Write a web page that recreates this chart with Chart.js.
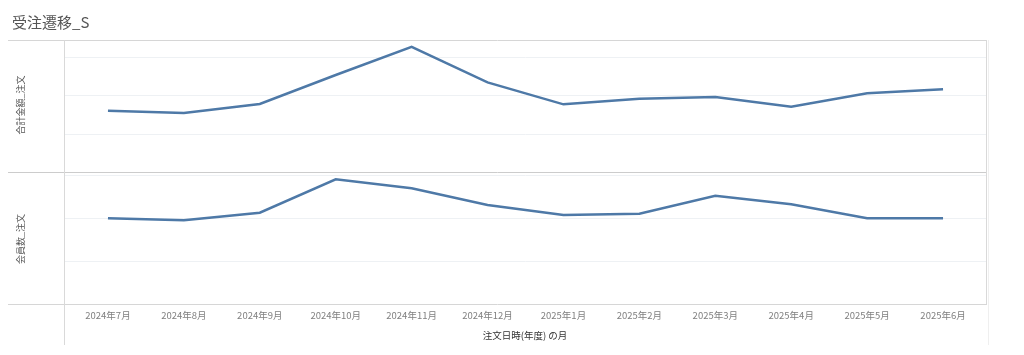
<!DOCTYPE html>
<html>
<head>
<meta charset="utf-8">
<script src="https://cdn.jsdelivr.net/npm/chart.js@4.4.1/dist/chart.umd.min.js"></script>
<style>
body{margin:0;background:#fff;}
#contenedor{position:relative;width:1024px;height:355px;}
</style>
</head>
<body>
<div id="contenedor"><canvas id="grafica"></canvas></div>
<script>
// datos
var meses = ['2024年7月','2024年8月','2024年9月','2024年10月','2024年11月','2024年12月','2025年1月','2025年2月','2025年3月','2025年4月','2025年5月','2025年6月'];
var montoTotal = [3184000, 3065000, 3532000, 5039000, 6509000, 4660000, 3517000, 3808000, 3896000, 3392000, 4088000, 4296000];
var miembros = [997, 973, 1062, 1450, 1345, 1151, 1035, 1050, 1259, 1159, 997, 997];

// ejes (sin etiquetas visibles)
var pasoMonto = 2000000;
var maxMonto = 6860000;
var pasoMiembros = 500;
var maxMiembros = 1535;

var titulo = '受注遷移_S';
var tituloMonto = '合計金額_注文';
var tituloMiembros = '会員数_注文';
var tituloX = '注文日時(年度) の月';

var fuente = '"Noto Sans CJK JP", "Noto Sans", sans-serif';
var azul = '#4e79a7';

function linea(ctx, x1, y1, x2, y2, color){
  ctx.beginPath();
  ctx.strokeStyle = color;
  ctx.lineWidth = 1;
  ctx.moveTo(x1, y1);
  ctx.lineTo(x2, y2);
  ctx.stroke();
}

function textoVertical(ctx, texto, x, y){
  ctx.save();
  ctx.translate(x, y);
  ctx.rotate(-Math.PI/2);
  ctx.textAlign = 'center';
  ctx.textBaseline = 'middle';
  ctx.fillText(texto, 0, 0);
  ctx.restore();
}

var marco = {
  id: 'marco',
  beforeDraw: function(chart){
    var ctx = chart.ctx;
    ctx.save();
    ctx.fillStyle = '#fff';
    ctx.fillRect(0, 0, chart.width, chart.height);
    ctx.restore();
  },
  beforeDatasetsDraw: function(chart){
    var ctx = chart.ctx;
    ctx.save();
    // lineas de cuadricula de cada panel
    [['yTop', pasoMonto], ['yBot', pasoMiembros]].forEach(function(par){
      var esc = chart.scales[par[0]];
      for (var v = par[1]; v < esc.max; v += par[1]) {
        var y = Math.round(esc.getPixelForValue(v)) + 0.5;
        linea(ctx, 64, y, 987, y, '#eef1f4');
      }
    });
    ctx.restore();
  },
  afterDraw: function(chart){
    var ctx = chart.ctx;
    var area = chart.chartArea;
    var div = Math.round(chart.scales.yBot.top) + 0.5;
    ctx.save();
    linea(ctx, 8, 40.5, 987, 40.5, '#d6d6d6');
    linea(ctx, 8, div, 987, div, '#cccccc');
    linea(ctx, 8, Math.round(area.bottom) + 0.5, 987, Math.round(area.bottom) + 0.5, '#d6d6d6');
    linea(ctx, 64.5, 40, 64.5, 345, '#d9d9d9');
    linea(ctx, 986.5, 40, 986.5, 304, '#d9d9d9');
    linea(ctx, 988.5, 40, 988.5, 345, '#efefef');

    ctx.fillStyle = '#555';
    ctx.font = '15px ' + fuente;
    ctx.textAlign = 'left';
    ctx.textBaseline = 'middle';
    ctx.fillText(titulo, 12, 22);

    ctx.fillStyle = '#555';
    ctx.font = '9px ' + fuente;
    var eTop = chart.scales.yTop, eBot = chart.scales.yBot;
    textoVertical(ctx, tituloMonto, 21, (eTop.top + eTop.bottom)/2 - 1);
    textoVertical(ctx, tituloMiembros, 21, (eBot.top + eBot.bottom)/2 + 1);

    ctx.fillStyle = '#333';
    ctx.font = '9.5px ' + fuente;
    ctx.textAlign = 'center';
    ctx.fillText(tituloX, 525, 335);
    ctx.restore();
  }
};

var ctx = document.getElementById('grafica');
var grafica = new Chart(ctx, {
  type: 'line',
  data: {
    labels: meses,
    datasets: [
      {
        label: tituloMonto,
        data: montoTotal,
        yAxisID: 'yTop',
        borderColor: azul,
        borderWidth: 2.5,
        pointRadius: 0,
        tension: 0,
        fill: false
      },
      {
        label: tituloMiembros,
        data: miembros,
        yAxisID: 'yBot',
        borderColor: azul,
        borderWidth: 2.5,
        pointRadius: 0,
        tension: 0,
        fill: false
      }
    ]
  },
  options: {
    responsive: true,
    maintainAspectRatio: false,
    animation: false,
    layout: { padding: { left: 70, right: 43, top: 40, bottom: 0 } },
    plugins: {
      legend: { display: false },
      tooltip: { enabled: false }
    },
    scales: {
      x: {
        offset: true,
        grid: { display: false, drawTicks: false },
        border: { display: false },
        ticks: {
          color: '#808080',
          padding: 6,
          maxRotation: 0,
          autoSkip: false,
          font: { family: fuente, size: 9.5 }
        },
        afterFit: function(esc){ esc.height = 51; }
      },
      yTop: {
        position: 'left',
        stack: 'paneles',
        stackWeight: 1,
        weight: 2,
        min: 0,
        max: maxMonto,
        ticks: { display: false, stepSize: pasoMonto },
        grid: { display: false },
        border: { display: false },
        afterFit: function(esc){ esc.width = 0; }
      },
      yBot: {
        position: 'left',
        stack: 'paneles',
        stackWeight: 1,
        weight: 1,
        min: 0,
        max: maxMiembros,
        ticks: { display: false, stepSize: pasoMiembros },
        grid: { display: false },
        border: { display: false },
        afterFit: function(esc){ esc.width = 0; }
      }
    }
  },
  plugins: [marco]
});
</script>
</body>
</html>
